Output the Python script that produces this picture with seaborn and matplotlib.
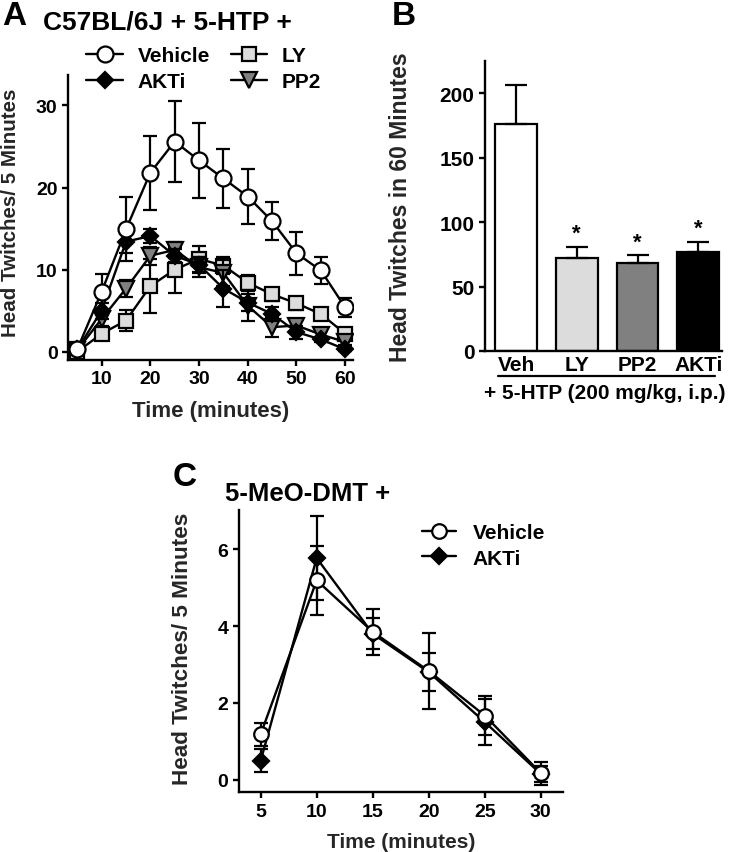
import numpy as np
import pandas as pd
import seaborn as sns
import matplotlib.pyplot as plt
from matplotlib.lines import Line2D

# datos
tiempo_a = [5, 10, 15, 20, 25, 30, 35, 40, 45, 50, 55, 60]
veh_media = [0.3, 7.3, 14.9, 21.8, 25.6, 23.3, 21.1, 18.9, 15.9, 12.0, 9.9, 5.4]
veh_sem = [0.2, 2.2, 3.9, 4.5, 4.9, 4.6, 3.6, 3.3, 2.3, 2.6, 1.6, 1.2]
akti_media = [0.3, 5.0, 13.4, 14.1, 11.7, 10.6, 7.7, 6.0, 4.6, 2.4, 1.5, 0.3]
akti_sem = [0.2, 1.0, 1.4, 0.8, 0.8, 1.0, 2.3, 1.0, 0.8, 0.8, 0.3, 0.2]
ly_media = [0.0, 2.2, 3.8, 8.0, 10.0, 11.3, 10.5, 8.4, 7.0, 5.9, 4.6, 2.2]
ly_sem = [0.2, 0.4, 1.3, 3.3, 2.8, 1.6, 1.0, 1.0, 0.8, 0.8, 0.5, 0.5]
pp2_media = [0.2, 4.0, 7.7, 11.7, 12.4, 10.3, 9.6, 5.6, 3.0, 3.2, 2.1, 1.2]
pp2_sem = [0.2, 0.8, 1.0, 1.1, 1.0, 1.2, 1.6, 1.9, 1.2, 0.8, 0.4, 0.4]

grupos_b = ["Veh", "LY", "PP2", "AKTi"]
total_media = [176, 72.5, 68, 77]
total_sem = [30, 8.3, 6.2, 7.8]
colores_b = ["white", "#dcdcdc", "#808080", "black"]

tiempo_c = [5, 10, 15, 20, 25, 30]
veh_c = [1.18, 5.19, 3.85, 2.83, 1.67, 0.17]
veh_c_sem = [0.3, 0.9, 0.6, 1.0, 0.5, 0.3]
akti_c = [0.49, 5.77, 3.8, 2.8, 1.5, 0.15]
akti_c_sem = [0.3, 1.1, 0.4, 0.5, 0.6, 0.2]

sns.set_style("ticks")
plt.rcParams['font.family'] = ['Liberation Sans', 'DejaVu Sans']
plt.rcParams['font.weight'] = 'bold'
plt.rcParams['axes.labelweight'] = 'bold'
plt.rcParams['axes.linewidth'] = 1.7
plt.rcParams['xtick.major.width'] = 1.7
plt.rcParams['ytick.major.width'] = 1.7
plt.rcParams['xtick.major.size'] = 4
plt.rcParams['ytick.major.size'] = 4
plt.rcParams['xtick.color'] = 'black'
plt.rcParams['ytick.color'] = 'black'
plt.rcParams['axes.edgecolor'] = 'black'
plt.rcParams['text.color'] = 'black'

W, H = 732, 853
fig = plt.figure(figsize=(W / 100, H / 100), dpi=100)


def caja(izq, der, arr, aba):
    return [izq / W, 1 - aba / H, (der - izq) / W, (aba - arr) / H]


def serie(ax, x, y, e, marker, fc, ms, label, z):
    df = pd.DataFrame({"x": x, "y": y})
    ax.errorbar(x, y, yerr=e, fmt="none", ecolor="black", elinewidth=1.6,
                capsize=5, capthick=1.6, zorder=z)
    sns.lineplot(data=df, x="x", y="y", ax=ax, color="black", lw=1.7,
                 marker=marker, markersize=ms, markerfacecolor=fc,
                 markeredgecolor="black", markeredgewidth=1.6, label=label,
                 zorder=z + 0.5, legend=False)


# ---- panel A
ax_a = fig.add_axes(caja(68, 353, 76, 361))
serie(ax_a, tiempo_a, ly_media, ly_sem, "s", "#dcdcdc", 10.5, "LY", 2)
serie(ax_a, tiempo_a, pp2_media, pp2_sem, "v", "#808080", 11.5, "PP2", 3)
serie(ax_a, tiempo_a, akti_media, akti_sem, "D", "black", 8.5, "AKTi", 4)
serie(ax_a, tiempo_a, veh_media, veh_sem, "o", "white", 11.5, "Vehicle", 5)
ax_a.set_xlim(3.1, 61.6)
ax_a.set_ylim(-1.0, 33.7)
ax_a.set_xticks([10, 20, 30, 40, 50, 60])
ax_a.set_yticks([0, 10, 20, 30])
ax_a.tick_params(labelsize=14)
ax_a.set_xlabel("Time (minutes)", fontsize=16)
ax_a.set_ylabel("Head Twitches/ 5 Minutes", fontsize=14.8)
ax_a.xaxis.set_label_coords(0.5, -0.14)
ax_a.yaxis.set_label_coords(-0.168, 0.52)
sns.despine(ax=ax_a)

hand = {ln.get_label(): ln for ln in ax_a.get_lines() if not ln.get_label().startswith("_")}
orden = ["Vehicle", "AKTi", "LY", "PP2"]
fig.legend([hand[k] for k in orden], orden, ncol=2, frameon=False,
           loc="upper left", bbox_to_anchor=(76 / W, 1 - 37 / H),
           fontsize=15, handlelength=1.75, handletextpad=0.7,
           columnspacing=1.0, labelspacing=0.32, borderpad=0)

fig.text(2 / W, 1 - 25 / H, "A", fontsize=24, fontweight="bold", va="baseline")
fig.text(43 / W, 1 - 29 / H, "C57BL/6J + 5-HTP +", fontsize=19,
         fontweight="bold", va="baseline")

# ---- panel B
ax_b = fig.add_axes(caja(485, 722, 62, 352))
df_b = pd.DataFrame({"grupo": grupos_b, "total": total_media})
sns.barplot(data=df_b, x="grupo", y="total", hue="grupo", palette=colores_b,
            edgecolor="black", linewidth=1.6, width=0.69, ax=ax_b, legend=False)
ax_b.errorbar(np.arange(4), total_media, yerr=[np.zeros(4), total_sem],
              fmt="none", ecolor="black", elinewidth=1.6, capsize=8, capthick=1.6)
for i in range(1, 4):
    ax_b.annotate("*", (i, total_media[i] + total_sem[i]), xytext=(0, 2),
                  textcoords="offset points", ha="center", va="bottom",
                  fontsize=16, fontweight="bold")
ax_b.set_xlim(-0.51, 3.39)
ax_b.set_ylim(0, 225)
ax_b.set_yticks([0, 50, 100, 150, 200])
ax_b.tick_params(labelsize=15)
ax_b.tick_params(axis="x", length=0, pad=3)
ax_b.set_xlabel("")
ax_b.set_ylabel("Head Twitches in 60 Minutes", fontsize=16.5)
ax_b.yaxis.set_label_coords(-0.308, 0.5)
sns.despine(ax=ax_b)
fig.add_artist(Line2D([498 / W, 715 / W], [1 - 377 / H, 1 - 377 / H],
                      color="black", lw=1.6))
fig.text(605 / W, 1 - 399 / H, "+ 5-HTP (200 mg/kg, i.p.)", fontsize=15,
         fontweight="bold", ha="center", va="baseline")
fig.text(392 / W, 1 - 25 / H, "B", fontsize=24, fontweight="bold", va="baseline")

# ---- panel C
ax_c = fig.add_axes(caja(238.7, 562.7, 510.7, 793.3))
serie(ax_c, tiempo_c, akti_c, akti_c_sem, "D", "black", 8.5, "AKTi", 2)
serie(ax_c, tiempo_c, veh_c, veh_c_sem, "o", "white", 10.5, "Vehicle", 3)
ax_c.set_xlim(3.04, 31.96)
ax_c.set_ylim(-0.33, 7.03)
ax_c.set_xticks(tiempo_c)
ax_c.set_yticks([0, 2, 4, 6])
ax_c.tick_params(labelsize=14)
ax_c.set_xlabel("Time (minutes)", fontsize=15)
ax_c.set_ylabel("Head Twitches/ 5 Minutes", fontsize=16.2)
ax_c.xaxis.set_label_coords(0.5, -0.14)
ax_c.yaxis.set_label_coords(-0.141, 0.51)
sns.despine(ax=ax_c)
hc = {ln.get_label(): ln for ln in ax_c.get_lines() if not ln.get_label().startswith("_")}
fig.legend([hc["Vehicle"], hc["AKTi"]], ["Vehicle", "AKTi"], frameon=False,
           loc="upper left", bbox_to_anchor=(412 / W, 1 - 514 / H),
           fontsize=15, handlelength=1.6, handletextpad=0.8,
           labelspacing=0.3, borderpad=0)
fig.text(173 / W, 1 - 486 / H, "C", fontsize=24, fontweight="bold", va="baseline")
fig.text(225 / W, 1 - 501 / H, "5-MeO-DMT +", fontsize=18.5, fontweight="bold",
         va="baseline")

fig.savefig("out.png", dpi=100)
